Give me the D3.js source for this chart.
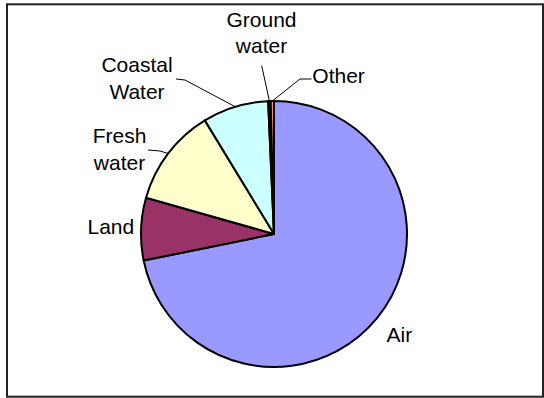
<!DOCTYPE html>
<html>
<head>
<meta charset="utf-8">
<script src="https://cdn.jsdelivr.net/npm/d3@7"></script>
<style>
  html, body { margin: 0; padding: 0; background: #fff; }
  svg { display: block; }
  text { font-family: "Liberation Sans", Arial, sans-serif; font-size: 21px; fill: #000; }
</style>
</head>
<body>
<svg id="chart" width="544" height="398"></svg>
<script>
// Share of releases by environmental compartment (%)
const categories = ["Air", "Land", "Fresh water", "Coastal Water", "Ground water", "Other"];
const shares     = [71.8, 7.6, 11.9, 8.0, 0.3, 0.4];
const colors     = ["#9999FF", "#993366", "#FFFFCC", "#CCFFFF", "#660066", "#FF8080"];

// Label text lines per category
const labelLines = [["Air"], ["Land"], ["Fresh", "water"], ["Coastal", "Water"], ["Ground", "water"], ["Other"]];

// Label placement: anchor, text position, leader elbow points (null = no leader)
const labelLayout = [
  { anchor: "start",  x: 386.5, y: 341.5, leader: null },
  { anchor: "start",  x: 87.5,  y: 234,   leader: null },
  { anchor: "middle", x: 119.5, y: 143.3, leader: [[148, 150], [160, 151]] },
  { anchor: "middle", x: 137,   y: 72.3,  leader: [[176, 79], [185, 80]] },
  { anchor: "middle", x: 261.5, y: 26.7,  leader: [[261.7, 65.7]] },
  { anchor: "start",  x: 312.3, y: 83.3,  leader: [[311.5, 79], [300, 79]] }
];

const width = 544, height = 398;
const cx = 274, cy = 234, radius = 133;
const lineStep = 26.7;

const svg = d3.select("#chart");

// Outer frame
svg.append("rect")
  .attr("x", 7).attr("y", 4.3)
  .attr("width", 536).attr("height", 392.4)
  .attr("fill", "none")
  .attr("stroke", "#222")
  .attr("stroke-width", 2);

const data = categories.map((c, i) => ({ name: c, value: shares[i], i }));

const pie = d3.pie()
  .sort(null)
  .value(d => d.value)
  .startAngle(0)
  .endAngle(2 * Math.PI);

const arcs = pie(data);
const arc = d3.arc().innerRadius(0).outerRadius(radius);

const g = svg.append("g").attr("transform", `translate(${cx},${cy})`);

g.selectAll("path.slice")
  .data(arcs)
  .join("path")
  .attr("class", "slice")
  .attr("d", arc)
  .attr("fill", d => colors[d.data.i])
  .attr("stroke", "#000")
  .attr("stroke-width", 2)
  .attr("stroke-linejoin", "round");

// Leader lines: from the label elbow points to the slice edge at its mid angle
const leaderG = svg.append("g");
arcs.forEach(a => {
  const lay = labelLayout[a.data.i];
  if (!lay.leader) return;
  const mid = (a.startAngle + a.endAngle) / 2;
  const edge = [cx + radius * Math.sin(mid), cy - radius * Math.cos(mid)];
  const pts = lay.leader.concat([edge]);
  leaderG.append("path")
    .attr("d", d3.line()(pts))
    .attr("fill", "none")
    .attr("stroke", "#000")
    .attr("stroke-width", 1);
});

// Category labels
const labelG = svg.append("g");
data.forEach(d => {
  const lay = labelLayout[d.i];
  const t = labelG.append("text")
    .attr("text-anchor", lay.anchor)
    .attr("x", lay.x)
    .attr("y", lay.y);
  labelLines[d.i].forEach((line, k) => {
    t.append("tspan")
      .attr("x", lay.x)
      .attr("y", lay.y + k * lineStep)
      .text(line);
  });
});
</script>
</body>
</html>
